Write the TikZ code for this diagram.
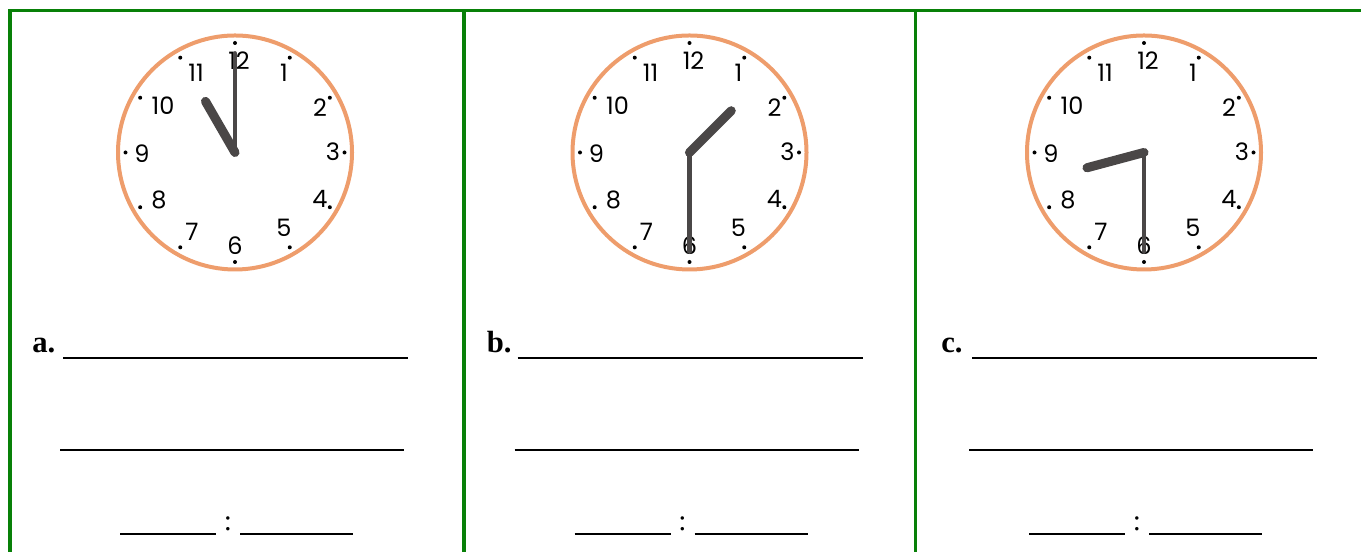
\documentclass[tikz,border=0pt]{standalone}
\usepackage{fontspec}
\setmainfont{Liberation Serif}
\newfontfamily\dialfont{Poppins}
\usetikzlibrary{positioning}
\definecolor{framegreen}{RGB}{8,128,8}
\definecolor{dialorange}{RGB}{238,157,108}
\definecolor{handgray}{RGB}{74,71,71}
\tikzset {
  x=0.75pt, y=0.75pt,
  frame/.style={framegreen, line width=2.7pt},
  dial/.style={dialorange, line width=3pt},
  hourhand/.style={handgray, line width=6.8pt, line cap=round},
  minutehand/.style={handgray, line width=3.6pt, line cap=round},
  numeral/.style={font=\dialfont\fontsize{18}{18}\selectfont, inner sep=0pt},
  itemlabel/.style={font=\fontsize{23}{23}\selectfont\bfseries, inner sep=0pt, anchor=base west},
  colonsign/.style={font=\fontsize{22}{22}\selectfont, inner sep=0pt, anchor=base},
  blank/.style={line width=1.4pt},
}

\begin{document}
\begin{tikzpicture}
  \useasboundingbox (0,0) rectangle (1361,552);
  \draw[frame] (10,0) -- (10,541.5) -- (1361,541.5);
  \draw[frame] (464,0) -- (464,541.5);
  \draw[frame] (915.5,0) -- (915.5,541.5);
  \foreach \c/\hr/\mn [count=\i from 0] in {a/11/0, b/1.5/30, c/8.5/30} {
    \begin{scope}[shift={(454.5*\i,0)}]
      % clock face
      \begin{scope}[shift={(235,399.5)}]
        \coordinate (o\c) at (0,0);
        \draw[dial] (o\c) circle[radius=117];
        \foreach \k in {1,...,12}
          \fill (90-30*\k:109.5) circle[radius=1.5pt];
        \foreach \h/\dx/\dy in {12/4/92, 1/49/80, 2/85/45, 3/98/1, 4/85/-46,
            5/49/-75, 6/0/-93, 7/-43/-79, 8/-76/-47, 9/-93/-1, 10/-72/47, 11/-39/80}
          \node[numeral] (n\c\h) at (\dx,\dy) {\h};
        \draw[hourhand] (o\c) -- ({90-30*\hr}:59);
        \draw[minutehand] (o\c) -- ({90-6*\mn}:99);
      \end{scope}
      % answer lines
      \node[itemlabel] (lbl\c) at (32,199) {\c.};
      \draw[blank] (63,194) -- (408,194);
      \draw[blank] (60,102) -- (404,102);
      \node[colonsign] (colon\c) at (228,21) {:};
      \draw[blank] (120,18) -- (216,18);
      \draw[blank] (240,18) -- (353,18);
    \end{scope}
  }
\end{tikzpicture}
\end{document}
